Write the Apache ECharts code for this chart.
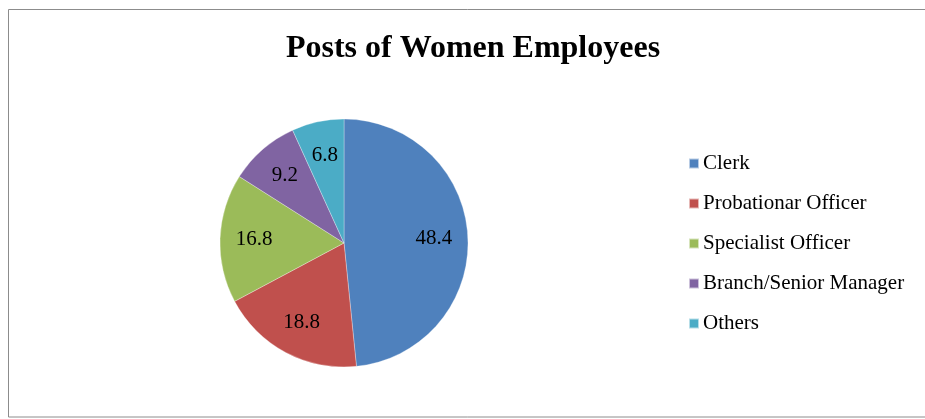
<!DOCTYPE html>
<html><head><meta charset="utf-8">
<script src="https://cdn.jsdelivr.net/npm/echarts@6/dist/echarts.min.js"></script>
<style>html,body{margin:0;padding:0;background:#fff}#c{width:925px;height:419px}</style>
</head><body><div id="c"></div>
<script>
const categories = ['Clerk', 'Probationar Officer', 'Specialist Officer', 'Branch/Senior Manager', 'Others'];
const values = [48.4, 18.8, 16.8, 9.2, 6.8];
const colors = ['#4F81BD', '#C0504D', '#9BBB59', '#8064A2', '#4BACC6'];
const serif = '"Liberation Serif", "Times New Roman", serif';

const chart = echarts.init(document.getElementById('c'));
chart.setOption({
  animation: false,
  color: colors,
  title: {
    text: 'Posts of Women Employees',
    left: 468, top: 28, textAlign: 'center',
    textStyle: {fontFamily: serif, fontWeight: 'bold', fontSize: 32, color: '#000'}
  },
  graphic: [{
    type: 'rect', shape: {x: 8.5, y: 9.5, width: 930, height: 407.5},
    style: {fill: 'none', stroke: '#8c8c8c', lineWidth: 1}, silent: true, z: -1
  }],
  legend: {
    orient: 'vertical', left: 688, top: 153, padding: 0,
    itemWidth: 10, itemHeight: 10, itemGap: 19, icon: 'rect',
    data: categories,
    textStyle: {fontFamily: serif, fontSize: 21, color: '#000', lineHeight: 20, padding: [0, 0, 0, -1]}
  },
  series: [{
    type: 'pie', center: [344, 243], radius: 124, startAngle: 90, clockwise: true,
    label: {show: false}, labelLine: {show: false},
    itemStyle: {borderColor: 'rgba(255,255,255,0.6)', borderWidth: 0.5},
    emphasis: {disabled: true},
    data: categories.map((n, i) => ({name: n, value: values[i]}))
  }, {
    type: 'pie', center: [344, 243], radius: 174, startAngle: 90, clockwise: true, silent: true,
    itemStyle: {color: 'rgba(0,0,0,0)'},
    labelLine: {show: false},
    label: {show: true, position: 'inside', formatter: '{c}', fontFamily: serif, fontSize: 21, color: '#000'},
    emphasis: {disabled: true},
    data: values.map(v => ({value: v}))
  }]
});
</script></body></html>
